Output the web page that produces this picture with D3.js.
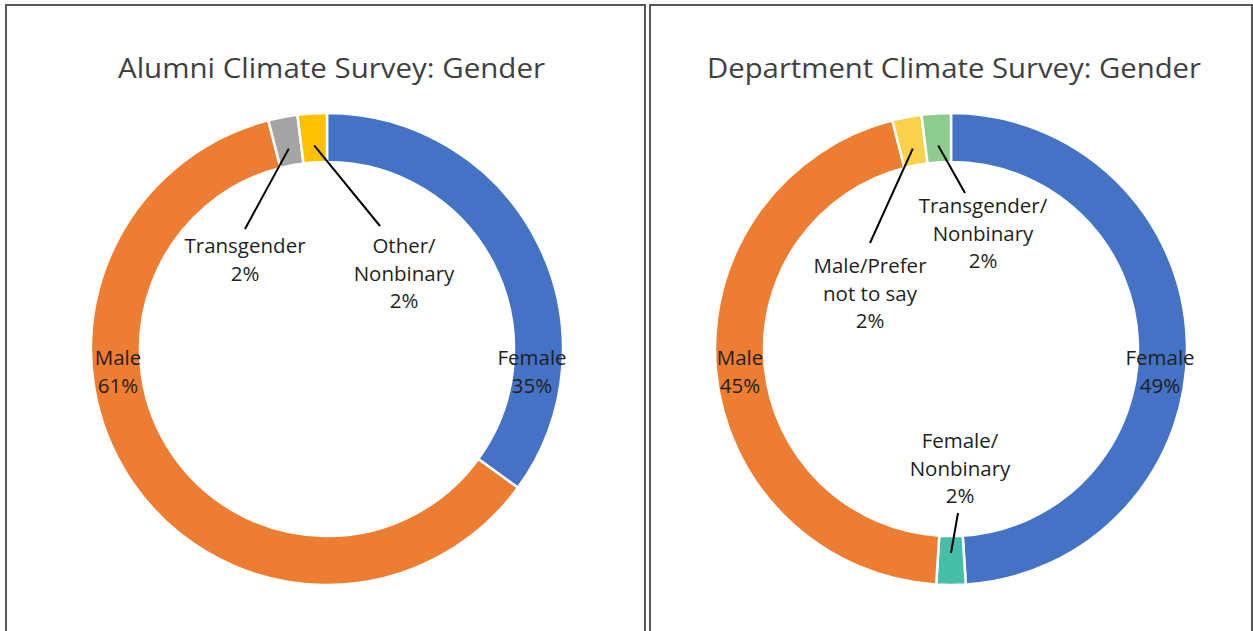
<!DOCTYPE html>
<html>
<head>
<meta charset="utf-8">
<script src="https://cdn.jsdelivr.net/npm/d3@7"></script>
<style>
  html, body { margin: 0; padding: 0; background: #fff; }
  svg { display: block; }
</style>
</head>
<body>
<svg id="chart" width="1253" height="631"></svg>
<script>
// ---------- DATA ----------
const alumniTitle = "Alumni Climate Survey: Gender";
const alumniCategories = ["Female", "Male", "Transgender", "Other/Nonbinary"];
const alumniValues = [35, 61, 2, 2];
const alumniLabelLines = [["Female"], ["Male"], ["Transgender"], ["Other/", "Nonbinary"]];

const deptTitle = "Department Climate Survey: Gender";
const deptCategories = ["Female", "Female/Nonbinary", "Male", "Male/Prefer not to say", "Transgender/Nonbinary"];
const deptValues = [49, 2, 45, 2, 2];
const deptLabelLines = [["Female"], ["Female/", "Nonbinary"], ["Male"], ["Male/Prefer", "not to say"], ["Transgender/", "Nonbinary"]];

// ---------- STYLE / LAYOUT ----------
const alumniColors = ["#4472C4", "#ED7D31", "#A5A5A5", "#FFC000"];
const deptColors = ["#4472C4", "#45BFA8", "#ED7D31", "#FAD14B", "#8DCC8C"];

const panels = [
  {
    title: alumniTitle, cats: alumniCategories, vals: alumniValues, lines: alumniLabelLines, colors: alumniColors,
    box: [6, 5, 639, 640], cx: 327, cy: 349, titleX: 331.5, titleW: 427,
    labels: [
      {x: 532, y: 357, leader: null},
      {x: 118, y: 357, leader: null},
      {x: 245, y: 245, leader: [245, 229]},
      {x: 404, y: 245, leader: [380, 226]}
    ]
  },
  {
    title: deptTitle, cats: deptCategories, vals: deptValues, lines: deptLabelLines, colors: deptColors,
    box: [650, 5, 602, 640], cx: 951, cy: 349, titleX: 954, titleW: 494,
    labels: [
      {x: 1160, y: 357, leader: null},
      {x: 960, y: 440, leader: [958, 513]},
      {x: 740, y: 357, leader: null},
      {x: 870, y: 265, leader: [870, 243]},
      {x: 983, y: 205, leader: [965, 193]}
    ]
  }
];

const outerR = 236, innerR = 187, anchorR = 204, lineH = 27.5;

const svg = d3.select("#chart");
svg.append("rect").attr("width", 1253).attr("height", 631).attr("fill", "#fff");

panels.forEach(p => {
  const g = svg.append("g");
  g.append("rect")
    .attr("x", p.box[0]).attr("y", p.box[1])
    .attr("width", p.box[2]).attr("height", p.box[3])
    .attr("fill", "#fff").attr("stroke", "#595959").attr("stroke-width", 2);

  g.append("text")
    .attr("x", p.titleX).attr("y", 67)
    .attr("text-anchor", "middle").attr("dominant-baseline", "central")
    .attr("font-family", "'Open Sans', sans-serif").attr("font-size", 28)
    .attr("fill", "#404040")
    .attr("textLength", p.titleW).attr("lengthAdjust", "spacingAndGlyphs")
    .text(p.title);

  const data = p.cats.map((c, i) => ({cat: c, value: p.vals[i], i}));
  const total = d3.sum(p.vals);
  const pie = d3.pie().value(d => d.value).sort(null);
  const arcs = pie(data);
  const arc = d3.arc().innerRadius(innerR).outerRadius(outerR);
  const color = d3.scaleOrdinal().domain(p.cats).range(p.colors);

  const chart = g.append("g").attr("transform", `translate(${p.cx},${p.cy})`);
  chart.selectAll("path.slice").data(arcs).enter().append("path")
    .attr("class", "slice")
    .attr("d", arc)
    .attr("fill", d => color(d.data.cat))
    .attr("stroke", "#fff").attr("stroke-width", 2.5).attr("stroke-linejoin", "miter");

  arcs.forEach((a, i) => {
    const lab = p.labels[i];
    if (!lab.leader) return;
    const mid = (a.startAngle + a.endAngle) / 2;
    const ax = Math.sin(mid) * anchorR, ay = -Math.cos(mid) * anchorR;
    chart.append("line")
      .attr("x1", ax).attr("y1", ay)
      .attr("x2", lab.leader[0] - p.cx).attr("y2", lab.leader[1] - p.cy)
      .attr("stroke", "#000").attr("stroke-width", 2);
  });

  arcs.forEach((a, i) => {
    const lab = p.labels[i];
    const pct = d3.format(".0%")(a.data.value / total);
    const lines = p.lines[i].concat([pct]);
    const txt = g.append("text")
      .attr("text-anchor", "middle")
      .attr("font-family", "'Open Sans', sans-serif").attr("font-size", 20.5)
      .attr("fill", "#1f1f1f");
    lines.forEach((ln, k) => {
      txt.append("tspan")
        .attr("x", lab.x).attr("y", lab.y + k * lineH)
        .attr("dominant-baseline", "central")
        .text(ln);
    });
  });
});
</script>
</body>
</html>
